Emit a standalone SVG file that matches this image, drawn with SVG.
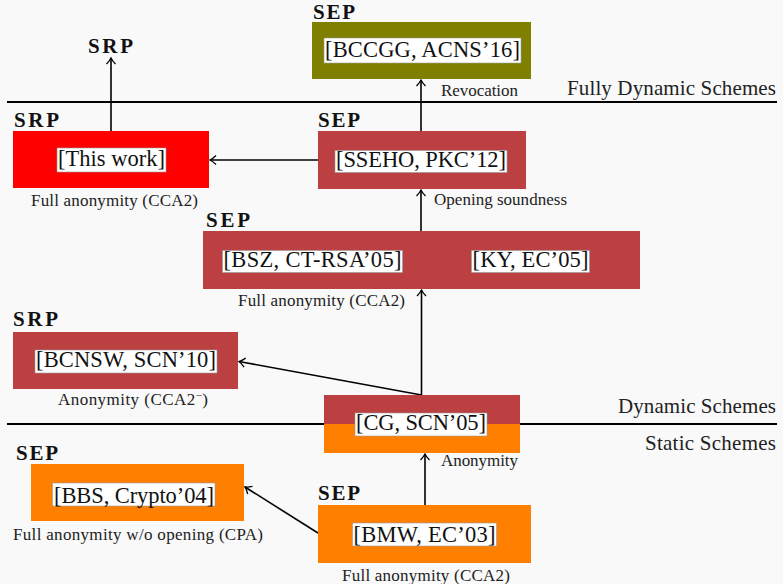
<svg xmlns="http://www.w3.org/2000/svg" width="783" height="584" viewBox="0 0 783 584">
<defs>
<marker id="ah" markerWidth="12" markerHeight="12" refX="10" refY="6" orient="auto" markerUnits="userSpaceOnUse">
<path d="M4,1.5 Q7,4.5 10,6 Q7,7.5 4,10.5" fill="none" stroke="#000" stroke-width="1.3"/>
</marker>
<style>
.main{font-family:"Liberation Serif","DejaVu Serif",serif;font-size:22.5px;fill:#111;text-anchor:middle}
.small{font-family:"Liberation Serif","DejaVu Serif",serif;font-size:17px;fill:#222}
.sec{font-family:"Liberation Serif","DejaVu Serif",serif;font-size:21px;fill:#222;text-anchor:end}
.tag{font-family:"Liberation Serif","DejaVu Serif",serif;font-size:21px;font-weight:bold;fill:#111}
.wb{fill:#fff;stroke:#999;stroke-width:0.6}
.olive{fill:#808000}.red{fill:#ff0000}.brick{fill:#bc4042}.orange{fill:#ff8000}
.conn{stroke:#000;stroke-width:1.6;fill:none;marker-end:url(#ah)}
.sep{stroke:#000;stroke-width:2}
</style>
</defs>
<rect width="783" height="584" fill="#f9f9f9"/>
<g id="separators">
<line class="sep" x1="7" y1="102" x2="777" y2="102"/>
<line class="sep" x1="7" y1="424" x2="777" y2="424"/>
<text class="sec" x="776" y="95" textLength="209">Fully Dynamic Schemes</text>
<text class="sec" x="776" y="413" textLength="158">Dynamic Schemes</text>
<text class="sec" x="776" y="450" textLength="131">Static Schemes</text>
</g>
<g id="connectors">
<line class="conn" x1="421" y1="131" x2="421" y2="80"/>
<line class="conn" x1="111" y1="131" x2="111" y2="58"/>
<line class="conn" x1="318" y1="160" x2="210" y2="160"/>
<line class="conn" x1="421" y1="231" x2="421" y2="190"/>
<line class="conn" x1="421.5" y1="395" x2="421.5" y2="290"/>
<line class="conn" x1="421.5" y1="395" x2="239" y2="361.5"/>
<line class="conn" x1="425" y1="505" x2="425" y2="454"/>
<line class="conn" x1="318" y1="533" x2="245" y2="487"/>
<text class="small" x="441" y="96" textLength="77">Revocation</text>
<text class="small" x="434" y="205" textLength="133">Opening soundness</text>
<text class="small" x="441" y="466" textLength="77">Anonymity</text>
<text class="tag" x="88" y="53" textLength="45">SRP</text>
</g>
<g id="bccgg">
<rect class="olive" x="312" y="22" width="219" height="57"/>
<rect class="wb" x="324" y="38" width="197" height="25"/>
<text class="main" x="422.5" y="57" textLength="195">[BCCGG, ACNS’16]</text>
<text class="tag" x="313" y="19" textLength="42">SEP</text>
</g>
<g id="thiswork">
<rect class="red" x="13" y="131" width="196" height="57"/>
<rect class="wb" x="57" y="148" width="109" height="24"/>
<text class="main" x="111.5" y="166" textLength="107">[This work]</text>
<text class="tag" x="14" y="127" textLength="45">SRP</text>
<text class="small" x="31" y="206" textLength="167">Full anonymity (CCA2)</text>
</g>
<g id="sseho">
<rect class="brick" x="318" y="131" width="208" height="58"/>
<rect class="wb" x="335" y="150.5" width="172" height="22"/>
<text class="main" x="421" y="166.5" textLength="170">[SSEHO, PKC’12]</text>
<text class="tag" x="318" y="127" textLength="42">SEP</text>
</g>
<g id="bsz-ky">
<rect class="brick" x="203" y="231" width="437" height="58"/>
<rect class="wb" x="222.5" y="250.5" width="180" height="22"/>
<text class="main" x="312.5" y="266.5" textLength="178">[BSZ, CT-RSA’05]</text>
<rect class="wb" x="471.5" y="250.5" width="118" height="22"/>
<text class="main" x="530.5" y="266.5" textLength="116">[KY, EC’05]</text>
<text class="tag" x="206" y="227" textLength="44">SEP</text>
<text class="small" x="238" y="306" textLength="167">Full anonymity (CCA2)</text>
</g>
<g id="bcnsw">
<rect class="brick" x="13" y="332" width="225" height="57"/>
<rect class="wb" x="35" y="350" width="182" height="23"/>
<text class="main" x="126" y="366.5" textLength="180">[BCNSW, SCN’10]</text>
<text class="tag" x="13" y="326" textLength="45">SRP</text>
<text class="small" x="58" y="405" textLength="150">Anonymity (CCA2<tspan dy="-6" font-size="11">−</tspan><tspan dy="6">)</tspan></text>
</g>
<g id="cg">
<rect class="brick" x="324" y="395" width="196" height="29"/>
<rect class="orange" x="324" y="424" width="196" height="29"/>
<rect class="wb" x="355" y="413" width="132" height="23"/>
<text class="main" x="421" y="430" textLength="130">[CG, SCN’05]</text>
</g>
<g id="bbs">
<rect class="orange" x="31" y="464" width="213" height="57"/>
<rect class="wb" x="52.5" y="483" width="162.5" height="23"/>
<text class="main" x="134" y="502.5" textLength="160">[BBS, Crypto’04]</text>
<text class="tag" x="16" y="460" textLength="42">SEP</text>
<text class="small" x="13" y="540" textLength="250">Full anonymity w/o opening (CPA)</text>
</g>
<g id="bmw">
<rect class="orange" x="318" y="505" width="213" height="58"/>
<rect class="wb" x="352.5" y="523" width="144" height="23"/>
<text class="main" x="424.5" y="541.5" textLength="142">[BMW, EC’03]</text>
<text class="tag" x="318" y="500" textLength="42">SEP</text>
<text class="small" x="342" y="581" textLength="168">Full anonymity (CCA2)</text>
</g>
</svg>
